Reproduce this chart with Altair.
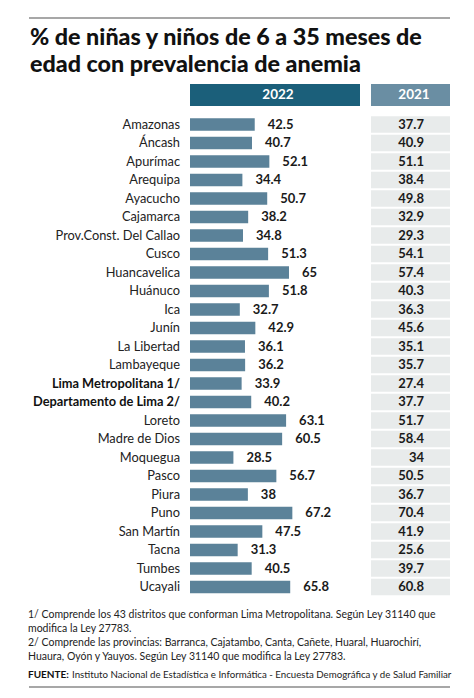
import altair as alt
import pandas as pd

names = ["Amazonas", "Áncash", "Apurímac", "Arequipa", "Ayacucho", "Cajamarca",
         "Prov.Const. Del Callao", "Cusco", "Huancavelica", "Huánuco", "Ica", "Junín",
         "La Libertad", "Lambayeque", "Lima Metropolitana 1/", "Departamento de Lima 2/",
         "Loreto", "Madre de Dios", "Moquegua", "Pasco", "Piura", "Puno", "San Martín",
         "Tacna", "Tumbes", "Ucayali"]
v2022 = [42.5, 40.7, 52.1, 34.4, 50.7, 38.2, 34.8, 51.3, 65, 51.8, 32.7, 42.9, 36.1,
         36.2, 33.9, 40.2, 63.1, 60.5, 28.5, 56.7, 38, 67.2, 47.5, 31.3, 40.5, 65.8]
v2021 = [37.7, 40.9, 51.1, 38.4, 49.8, 32.9, 29.3, 54.1, 57.4, 40.3, 36.3, 45.6, 35.1,
         35.7, 27.4, 37.7, 51.7, 58.4, 34, 50.5, 36.7, 70.4, 41.9, 25.6, 39.7, 60.8]
bold_rows = ["Lima Metropolitana 1/", "Departamento de Lima 2/"]
title_lines = ["% de niñas y niños de 6 a 35 meses de", "edad con prevalencia de anemia"]
headers = ["2022", "2021"]
notes = [
    "1/ Comprende los 43 distritos que conforman Lima Metropolitana. Según Ley 31140 que",
    "modifica la Ley 27783.",
    "2/ Comprende las provincias: Barranca, Cajatambo, Canta, Cañete, Huaral, Huarochirí,",
    "Huaura, Oyón y Yauyos. Según Ley 31140 que modifica la Ley 27783.",
]
source_label = "FUENTE:"
source_text = "Instituto Nacional de Estadística e Informática - Encuesta Demográfica y de Salud Familiar"

df = pd.DataFrame({"name": names, "v2022": v2022, "v2021": v2021})
df["bold"] = df["name"].isin(bold_rows)

W, H = 458, 682
FONT = "Lato"
one = alt.Data(values=[{}])

yscale = alt.Scale(domain=names, range=[107.25, 588.25], paddingInner=0, paddingOuter=0)
xscale = alt.Scale(domain=[0, 100], range=[182, 334.3])
Y = alt.Y("name:N", sort=names, scale=yscale, axis=None)

base = alt.Chart(df)

bars = base.mark_bar(height=12.7, color="#5b8299").encode(
    x=alt.X("v2022:Q", scale=xscale, axis=None), y=Y)
vals = base.mark_text(align="left", dx=13, fontWeight="bold", fontSize=13, font=FONT,
                      color="#1a1a1a").encode(
    x=alt.X("v2022:Q", scale=xscale, axis=None), y=Y, text=alt.Text("v2022:N"))
labels = base.transform_filter("!datum.bold").mark_text(
    align="right", fontSize=12.8, font=FONT, color="#222222").encode(
    x=alt.value(172), y=Y, text="name:N")
labels_b = base.transform_filter("datum.bold").mark_text(
    align="right", fontSize=12.8, font=FONT, fontWeight="bold", color="#111111").encode(
    x=alt.value(172), y=Y, text="name:N")
cells = base.mark_bar(height=16.5, color="#e8ebeb").encode(
    x=alt.value(363), x2=alt.value(442), y=Y)
vals21 = base.mark_text(align="right", fontWeight="bold", fontSize=13, font=FONT,
                        color="#1a1a1a").encode(
    x=alt.value(416), y=Y, text=alt.Text("v2021:N"))

h1 = alt.Chart(one).mark_rect(color="#1b5f7a").encode(
    x=alt.value(182), x2=alt.value(352), y=alt.value(76), y2=alt.value(98))
h2 = alt.Chart(one).mark_rect(color="#6a8ea3").encode(
    x=alt.value(363), x2=alt.value(442), y=alt.value(76), y2=alt.value(98))
h1t = alt.Chart(one).mark_text(text=headers[0], color="white", fontWeight="bold",
                               fontSize=13.5, font=FONT, align="center", baseline="middle").encode(
    x=alt.value(270), y=alt.value(87))
h2t = alt.Chart(one).mark_text(text=headers[1], color="white", fontWeight="bold",
                               fontSize=13.5, font=FONT, align="center", baseline="middle").encode(
    x=alt.value(406), y=alt.value(87))

top_rule = alt.Chart(one).mark_rule(color="#8a8a8a", strokeWidth=1.5).encode(
    x=alt.value(21), x2=alt.value(442), y=alt.value(10))
bot_rule = alt.Chart(one).mark_rule(color="#8a8a8a", strokeWidth=1.5).encode(
    x=alt.value(21), x2=alt.value(442), y=alt.value(679))

t1 = alt.Chart(one).mark_text(text=title_lines[0], fontSize=23.3, fontWeight=900, font=FONT,
                              align="left", baseline="alphabetic", color="#111111").encode(
    x=alt.value(22), y=alt.value(37))
t2 = alt.Chart(one).mark_text(text=title_lines[1], fontSize=23.3, fontWeight=900, font=FONT,
                              align="left", baseline="alphabetic", color="#111111").encode(
    x=alt.value(22), y=alt.value(64))

note_layers = []
for i, line in enumerate(notes):
    note_layers.append(alt.Chart(one).mark_text(
        text=line, fontSize=10.5, font=FONT, align="left", baseline="middle",
        color="#222222").encode(x=alt.value(20), y=alt.value(607 + 14 * i)))

src1 = alt.Chart(one).mark_text(text=source_label, fontSize=10, font=FONT, fontWeight="bold",
                                align="left", baseline="middle", color="#111111").encode(
    x=alt.value(20), y=alt.value(667))
src2 = alt.Chart(one).mark_text(text=source_text, fontSize=9.7, font=FONT,
                                align="left", baseline="middle", color="#222222").encode(
    x=alt.value(64), y=alt.value(667))

chart = alt.layer(
    top_rule, t1, t2, h1, h2, h1t, h2t, cells, bars, vals, labels, labels_b, vals21,
    *note_layers, src1, src2, bot_rule
).properties(
    width=W, height=H, padding=0, autosize=alt.AutoSizeParams(type="none"),
    background="white"
).configure_view(stroke=None)

chart.save("out.html", embed_options={"renderer": "svg", "actions": False})
